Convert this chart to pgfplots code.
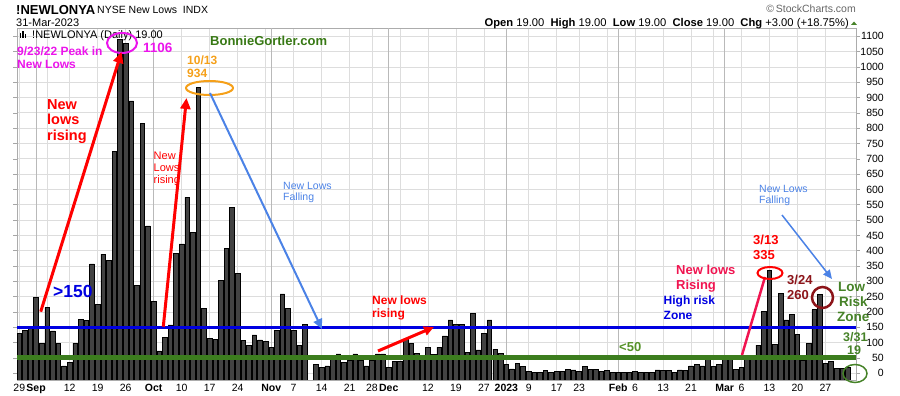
\documentclass[border=0pt]{standalone}
\usepackage{fontspec}
\setmainfont{Liberation Sans}
\usepackage{pgfplots}
\usepackage{pgfplotstable}
\pgfplotsset{compat=1.18}
\usetikzlibrary{arrows.meta}
\definecolor{barfill}{RGB}{66,66,66}
\definecolor{gridlight}{RGB}{221,221,221}
\definecolor{griddark}{RGB}{185,185,185}
\definecolor{mag}{RGB}{235,20,235}
\definecolor{orng}{RGB}{245,160,25}
\definecolor{bgreen}{RGB}{55,120,20}
\definecolor{lineblue}{RGB}{0,0,225}
\definecolor{linegreen}{RGB}{60,125,30}
\definecolor{lblue}{RGB}{75,130,230}
\definecolor{crimson}{RGB}{240,20,80}
\definecolor{dred}{RGB}{140,20,25}
\definecolor{lrgreen}{RGB}{70,130,40}
\definecolor{ltgreen}{RGB}{85,145,40}
\pgfplotstableread{
i v
0 130
1 141
2 154
3 248
4 96
5 215
6 138
7 96
8 24
9 34
10 98
11 177
12 172
13 357
14 226
15 389
16 368
17 723
18 1090
19 1077
20 889
21 288
22 816
23 481
24 234
25 73
26 117
27 158
28 392
29 422
30 574
31 460
32 934
33 212
34 114
35 111
36 303
37 408
38 542
39 326
40 106
41 92
42 125
43 109
44 105
45 85
46 139
47 259
48 212
49 141
50 92
51 160
53 30
54 20
55 24
56 48
57 63
58 36
59 43
60 63
61 43
62 24
63 43
64 63
65 63
66 20
67 40
68 40
69 112
70 98
71 65
72 58
73 85
74 62
75 85
76 122
77 174
78 160
79 160
80 68
81 196
82 76
83 130
84 174
85 79
86 65
87 30
88 14
89 33
90 21
91 5
92 3
93 3
94 8
95 4
96 5
97 5
98 13
99 11
100 5
101 21
102 12
103 12
104 5
105 8
106 4
107 4
108 3
109 3
110 6
111 4
112 3
113 4
114 11
115 8
116 8
117 3
118 11
119 8
120 24
121 30
122 24
123 44
124 21
125 30
126 44
127 56
128 13
129 18
130 48
131 52
132 92
133 203
134 335
135 95
136 261
137 174
138 193
139 127
140 42
141 98
142 207
143 258
144 33
145 40
146 16
147 16
148 19
}\newlows
\begin{document}
\begin{tikzpicture}
\useasboundingbox (0,0) rectangle (900pt,396pt);
\begin{axis}[
  at={(17pt,16pt)}, anchor=south west, scale only axis,
  width=839pt, height=352pt,
  xmin=-0.41, xmax=149.46, ymin=-22, ymax=1127,
  y coord trafo/.code={\pgfmathparse{#1+22}},
  y coord inv trafo/.code={\pgfmathparse{#1-22}},
  axis line style={gray!65, line width=0.8pt},
  xtick={0,5,9,14,19,29,34,39,44,49,54,59,63,68,73,78,83,91,96,100,105,110,115,120,124,129,134,139,144},
  xticklabels={29,,12,19,26,10,17,24,,7,14,21,28,,12,19,27,9,17,23,,6,13,21,,6,13,20,27},
  extra x ticks={3,24,45,66,87,107,126},
  extra x tick labels={Sep,Oct,Nov,Dec,2023,Feb,Mar},
  extra x tick style={major grid style={griddark, line width=0.8pt}, xticklabel style={font=\fontsize{10.5}{12}\selectfont\bfseries}},
  xmajorgrids, ymajorgrids,
  major grid style={gridlight, line width=0.8pt},
  xtick style={draw=none},
  tick align=outside,
  major tick length=4pt,
  ytick style={gray!70, line width=0.6pt},
  ytick={0,50,100,150,200,250,300,350,400,450,500,550,600,650,700,750,800,850,900,950,1000,1050,1100},
  yticklabels={0,50,100,150,200,250,300,350,400,450,500,550,600,650,700,750,800,850,900,950,1000,1050,1100},
  yticklabel pos=right,
  yticklabel style={anchor=east, inner sep=0pt, xshift=24pt, font=\fontsize{10.5}{12}\selectfont},
  xticklabel style={inner sep=0pt, font=\fontsize{10.5}{12}\selectfont},
]
\addplot[ybar, bar width=0.82, fill=barfill, draw=black, line width=0.7pt] table[x=i, y=v] {\newlows};
\addplot[sharp plot, lineblue, line width=3pt] coordinates {(-0.41,150) (149.46,150)};
\addplot[sharp plot, linegreen, line width=5pt] coordinates {(-0.41,50) (149.46,50)};
\end{axis}
\begin{scope}[x=1pt, y=-1pt, shift={(0pt,396pt)}, every node/.style={inner sep=0pt, anchor=base west}]
% header
\node at (16,15) {\fontsize{13}{15}\selectfont\bfseries !NEWLONYA};
\node at (97,14) {\fontsize{10.5}{12}\selectfont NYSE New Lows\ \ INDX};
\node at (16,27) {\fontsize{11}{13}\selectfont 31-Mar-2023};
\node[anchor=base east, text=gray!80!black] at (856,13) {\fontsize{10.5}{12}\selectfont \textcopyright\,StockCharts.com};
\node[anchor=base east] at (849,26.5) {\fontsize{11.2}{13}\selectfont \textbf{Open} 19.00\ \ \textbf{High} 19.00\ \ \textbf{Low} 19.00\ \ \textbf{Close} 19.00\ \ \textbf{Chg} +3.00 (+18.75\%)};
\fill[lrgreen] (851,25) -- (857,25) -- (854,21.5) -- cycle;
% icon and inner title
\fill[black] (19.5,33) rectangle (21,38.5);
\fill[black] (22.2,31) rectangle (23.7,38.5);
\fill[black] (24.9,34.5) rectangle (26.4,38.5);
\node at (32,39) {\fontsize{11}{13}\selectfont !NEWLONYA (Daily) 19.00};
% peak annotations
\node[text=mag] at (17,55.5) {\fontsize{12}{14}\selectfont\bfseries 9/23/22 Peak in};
\node[text=mag] at (17,68.5) {\fontsize{12}{14}\selectfont\bfseries New Lows};
\draw[mag, line width=2pt] (122,43) ellipse [x radius=15, y radius=10];
\node[text=mag] at (143,53) {\fontsize{13.5}{15}\selectfont\bfseries 1106};
\node[text=bgreen] at (210,45.5) {\fontsize{13}{15}\selectfont\bfseries BonnieGortler.com};
\node[text=orng] at (187,65) {\fontsize{12}{14}\selectfont\bfseries 10/13};
\node[text=orng] at (187,78) {\fontsize{12}{14}\selectfont\bfseries 934};
\draw[orng, line width=2pt] (209.5,88) ellipse [x radius=23.5, y radius=7];
% red big text
\node[text=red] at (47,109.5) {\fontsize{14.5}{16}\selectfont\bfseries New};
\node[text=red] at (47,125) {\fontsize{14.5}{16}\selectfont\bfseries lows};
\node[text=red] at (47,140.5) {\fontsize{14.5}{16}\selectfont\bfseries rising};
\draw[red, line width=3pt, -{Triangle[length=11pt,width=10pt]}] (40.7,311.7) -- (121.5,52);
\node[text=red] at (153.5,159.5) {\fontsize{11}{13}\selectfont New};
\node[text=red] at (153.5,171.5) {\fontsize{11}{13}\selectfont Lows};
\node[text=red] at (153.5,183.5) {\fontsize{11}{13}\selectfont rising};
\draw[red, line width=3pt, -{Triangle[length=11pt,width=10pt]}] (163.3,326.7) -- (186.5,98);
% blue falling arrow
\draw[lblue, line width=2pt, -{Triangle[length=10pt,width=9pt]}] (210,93) -- (322,329);
\node[text=lblue] at (283,189.5) {\fontsize{10.5}{12}\selectfont New Lows};
\node[text=lblue] at (283,200.5) {\fontsize{10.5}{12}\selectfont Falling};
\node[text=lineblue] at (53,297.5) {\fontsize{17.5}{19}\selectfont\bfseries >150};
% december
\node[text=red] at (372,305) {\fontsize{12}{14}\selectfont\bfseries New lows};
\node[text=red] at (372,317.5) {\fontsize{12}{14}\selectfont\bfseries rising};
\draw[red, line width=3pt, -{Triangle[length=10pt,width=9pt]}] (378,351) -- (434,327);
\node[text=ltgreen] at (619,352) {\fontsize{13}{15}\selectfont\bfseries <50};
\node[text=lineblue] at (663.5,305) {\fontsize{12}{14}\selectfont\bfseries High risk};
\node[text=lineblue] at (663.5,320) {\fontsize{12}{14}\selectfont\bfseries Zone};
% march
\node[text=crimson] at (676,275) {\fontsize{13}{15}\selectfont\bfseries New lows};
\node[text=crimson] at (676,290) {\fontsize{13}{15}\selectfont\bfseries Rising};
\draw[crimson, line width=2.5pt] (742,355) -- (765,277);
\draw[red, line width=2pt] (770,273) ellipse [x radius=12.5, y radius=6];
\node[text=red] at (753,245) {\fontsize{13}{15}\selectfont\bfseries 3/13};
\node[text=red] at (753,260) {\fontsize{13}{15}\selectfont\bfseries 335};
\node[text=dred] at (787,285) {\fontsize{13}{15}\selectfont\bfseries 3/24};
\node[text=dred] at (787,300) {\fontsize{13}{15}\selectfont\bfseries 260};
\draw[dred, line width=2.5pt] (822.5,297.5) circle [radius=10.5];
\node[text=lblue] at (759,193) {\fontsize{10.5}{12}\selectfont New Lows};
\node[text=lblue] at (759,204) {\fontsize{10.5}{12}\selectfont Falling};
\draw[lblue, line width=1.5pt, -{Triangle[length=9pt,width=8pt]}] (782,215) -- (832,279);
\node[text=lrgreen] at (838,292) {\fontsize{13.5}{15}\selectfont\bfseries Low};
\node[text=lrgreen] at (839,307) {\fontsize{13.5}{15}\selectfont\bfseries Risk};
\node[text=lrgreen] at (837,322) {\fontsize{13.5}{15}\selectfont\bfseries Zone};
\node[text=lrgreen] at (843,342) {\fontsize{12.5}{14}\selectfont\bfseries 3/31};
\node[text=lrgreen] at (847,355) {\fontsize{12.5}{14}\selectfont\bfseries 19};
\draw[lrgreen, line width=1.5pt] (855,373.5) ellipse [x radius=12, y radius=9];
\end{scope}
\end{tikzpicture}
\end{document}
